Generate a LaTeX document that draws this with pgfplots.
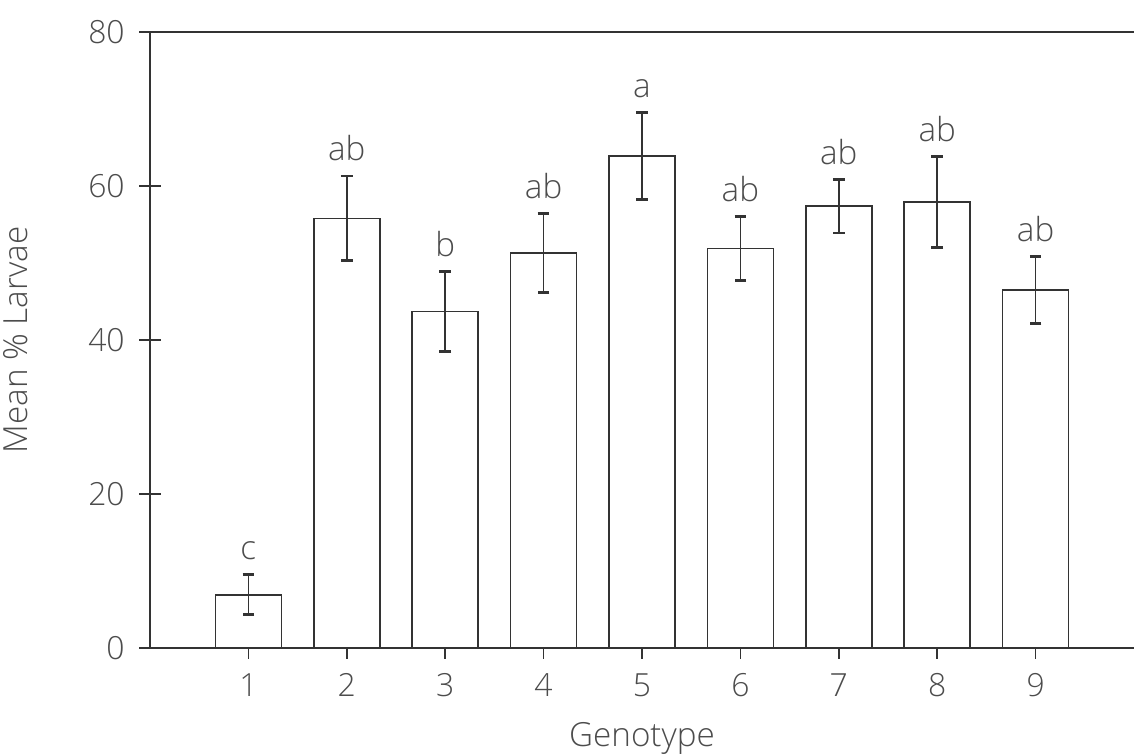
\documentclass[border=0pt]{standalone}
\usepackage{pgfplots}
\pgfplotsset{compat=1.18}
\usepackage{pgfplotstable}
\usepackage{fontspec}
\setmainfont{Open Sans}[UprightFont=* Light]
\pgfplotstableread{
x y err
1 6.9 2.6
2 55.8 5.5
3 43.7 5.2
4 51.3 5.1
5 63.9 5.6
6 51.9 4.2
7 57.4 3.5
8 57.9 5.9
9 46.5 4.3
}\bars
\pgfplotstableread{
x y lab
1 9.5 c
2 61.3 ab
3 48.9 b
4 56.4 ab
5 69.5 a
6 56.1 ab
7 60.9 ab
8 63.8 ab
9 50.8 ab
}\labs
\begin{document}
\begin{tikzpicture}
\begin{axis}[
  scale only axis,
  width=13.02cm, height=8.15cm,
  xmin=0, xmax=10, ymin=0, ymax=80,
  axis x line*=bottom, axis y line*=left,
  axis line style={black!80, line width=0.6pt, -},
  xtick={1,...,9}, ytick={0,20,40,60,80},
  tick align=center, major tick length=8pt,
  tick style={black!80, line width=0.6pt},
  /pgf/number format/assume math mode=true,
  ticklabel style={font=\fontsize{12}{14}\selectfont, text=black!70},
  xticklabel style={yshift=-2pt},
  yticklabel style={xshift=-2pt},
  xlabel={Genotype}, ylabel={Mean \% Larvae},
  label style={font=\fontsize{12.5}{15}\selectfont, text=black!70},
  xlabel style={at={(rel axis cs:0.5,-0.147)}, anchor=center},
  ylabel style={at={(rel axis cs:-0.115,0.5)}, anchor=south},
  clip=false,
]
\addplot[ybar, bar width=0.67, draw=black!80, fill=white, line width=0.6pt,
  error bars/.cd, y dir=both, y explicit,
  error bar style={black!80, line width=0.6pt},
  error mark options={rotate=90, black!80, mark size=2.2pt, line width=1.1pt}]
  table[x=x, y=y, y error=err] {\bars};
\addplot[draw=none, mark=none, nodes near coords, point meta=explicit symbolic,
  nodes near coords style={anchor=south, yshift=2pt, font=\fontsize{12.5}{15}\selectfont, text=black!70}]
  table[x=x, y=y, meta=lab] {\labs};
\draw[black!80, line width=0.6pt] (rel axis cs:0,1) -- (rel axis cs:1,1);
\coordinate (bl) at (rel axis cs:-0.1524,-0.1753);
\coordinate (tr) at (rel axis cs:1,1.052);
\end{axis}
\pgfresetboundingbox
\path[use as bounding box] (bl) rectangle (tr);
\end{tikzpicture}
\end{document}
